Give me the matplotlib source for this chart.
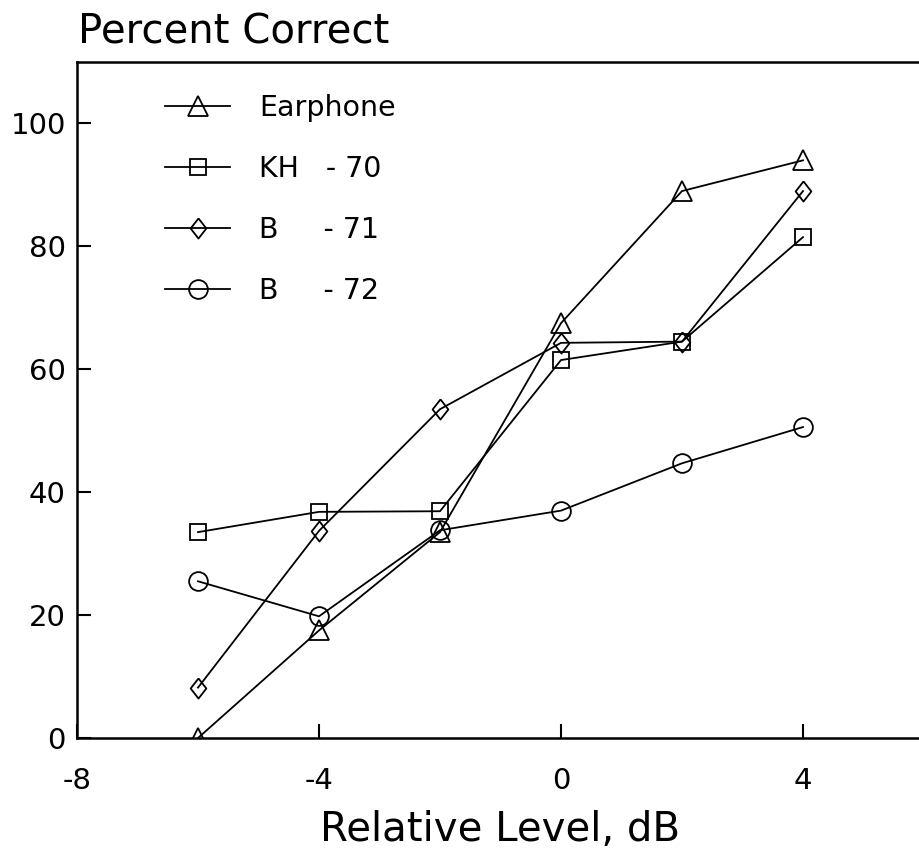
import matplotlib
matplotlib.use("Agg")
import matplotlib.pyplot as plt

# Data
levels = [-6, -4, -2, 0, 2, 4]
earphone = [0, 17.5, 33.5, 67.5, 89, 94]
kh70 = [33.5, 36.8, 36.9, 61.5, 64.5, 81.5]
b71 = [8.2, 33.7, 53.5, 64.3, 64.5, 89]
b72 = [25.5, 19.8, 33.8, 37.0, 44.7, 50.6]
series_labels = ["Earphone", "KH   - 70", "B     - 71", "B     - 72"]
xticks = [-8, -4, 0, 4]
yticks = [0, 20, 40, 60, 80, 100]

plt.rcParams['font.family'] = ['DejaVu Sans']
plt.rcParams['axes.unicode_minus'] = False

W, H = 920, 850
fig = plt.figure(figsize=(W / 100, H / 100), dpi=100)
ax = fig.add_axes([77 / W, (H - 738) / H, (924 - 77) / W, (738 - 62) / H])

diamond = [(0, 1), (0.78, 0), (0, -1), (-0.78, 0), (0, 1)]

lw = 1.3
common = dict(color='black', lw=lw, markerfacecolor='none', markeredgecolor='black',
              markeredgewidth=lw)
ax.plot(levels, earphone, marker='^', ms=14, label=series_labels[0], **common)
ax.plot(levels, kh70, marker='s', ms=11.5, label=series_labels[1], **common)
ax.plot(levels, b71, marker=diamond, ms=14.5, label=series_labels[2], **common)
ax.plot(levels, b72, marker='o', ms=13.5, label=series_labels[3], **common)

ax.set_xlim(-8, 6)
ax.set_ylim(0, 110)
ax.set_xticks(xticks)
ax.set_xticklabels([str(v) for v in xticks])
ax.set_yticks(yticks)
ax.set_yticklabels([str(v) for v in yticks])

for s in ['left', 'top', 'bottom']:
    ax.spines[s].set_linewidth(1.8)
ax.spines['right'].set_visible(False)
ax.tick_params(axis='both', direction='in', length=10, width=1.5, labelsize=21)
ax.tick_params(axis='x', pad=21)
ax.tick_params(axis='y', pad=8)

leg = ax.legend(loc='upper left', bbox_to_anchor=(165 / W, 1 - 94 / H),
                bbox_transform=fig.transFigure, frameon=False, fontsize=20.5,
                handlelength=2.3, handletextpad=1.0, labelspacing=1.16,
                borderpad=0, borderaxespad=0)

fig.text(78 / W, 1 - 43 / H, "Percent Correct", fontsize=29, va='baseline', ha='left')
fig.text((77 + 924) / 2 / W, 1 - 841 / H, "Relative Level, dB", fontsize=29,
         va='baseline', ha='center')

fig.savefig("out.png", dpi=100)
